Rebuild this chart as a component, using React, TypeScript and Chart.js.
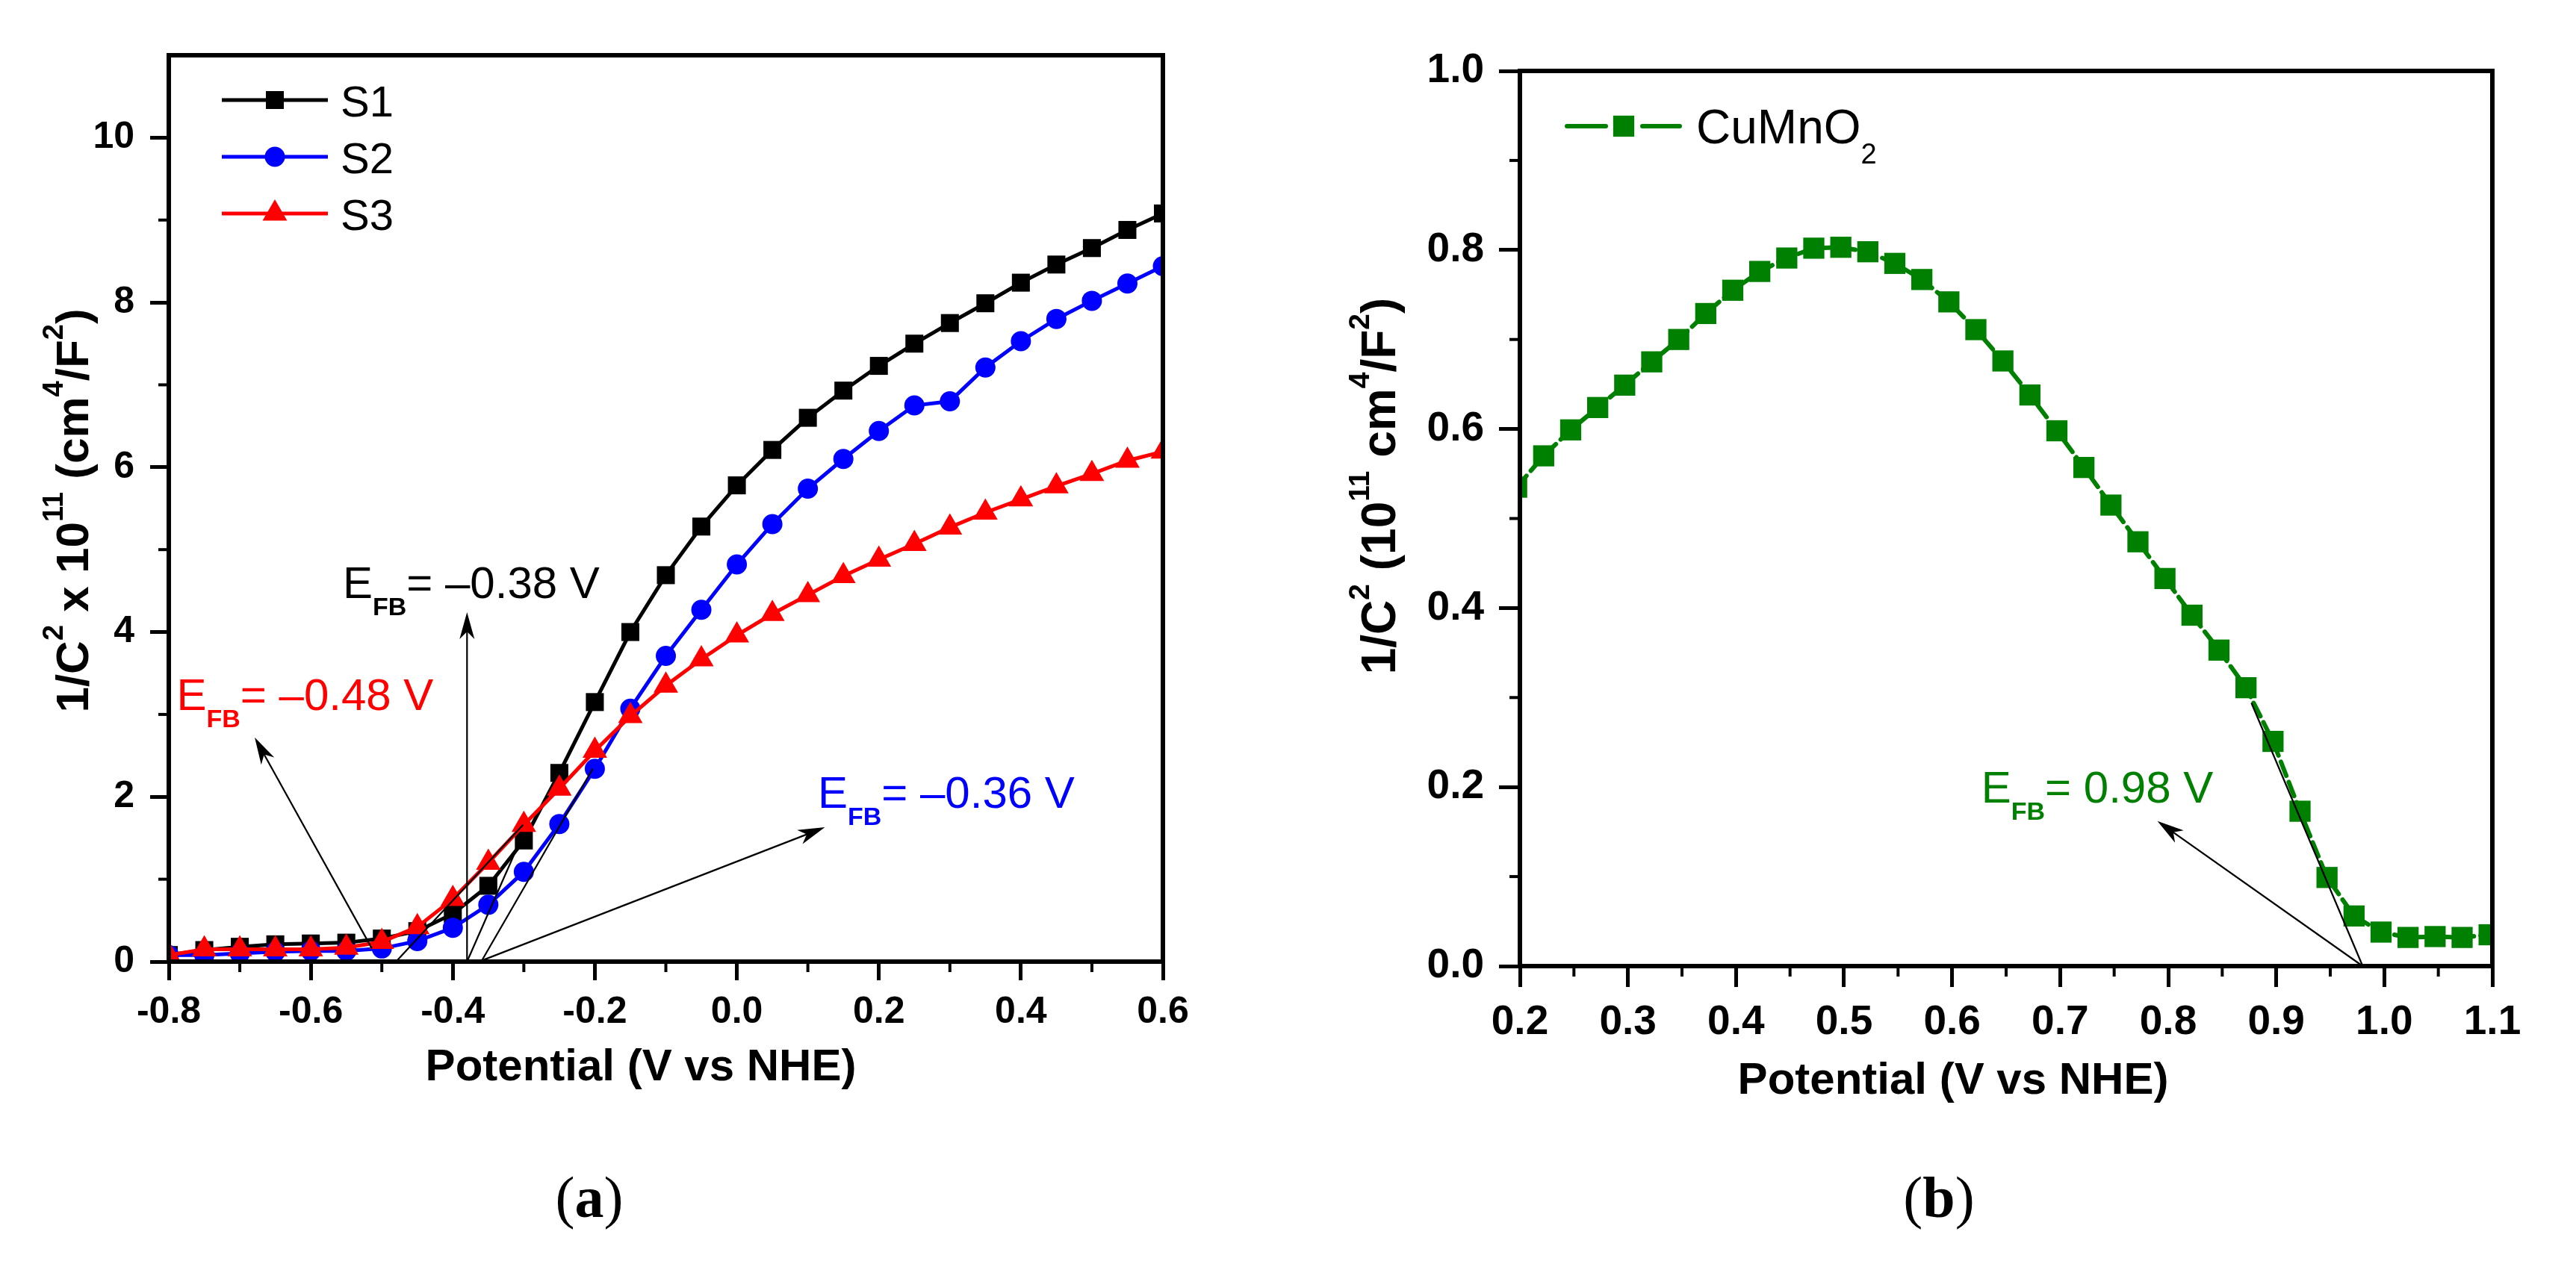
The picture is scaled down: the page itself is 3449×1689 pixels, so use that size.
import React, { useEffect, useRef } from 'react';
import { Chart, registerables } from 'chart.js';

Chart.register(...registerables);

const SANS = '"Liberation Sans", Arial, Helvetica, sans-serif';
const SERIF = '"Liberation Serif", "Times New Roman", serif';

// ---- Panel (a): Mott–Schottky plots of S1, S2, S3 ----
const POTENTIAL_A = [
  -0.8, -0.75, -0.7, -0.65, -0.6, -0.55, -0.5, -0.45, -0.4, -0.35, -0.3, -0.25, -0.2, -0.15, -0.1,
  -0.05, 0.0, 0.05, 0.1, 0.15, 0.2, 0.25, 0.3, 0.35, 0.4, 0.45, 0.5, 0.55, 0.6,
];
const S1 = [
  0.08, 0.14, 0.18, 0.21, 0.22, 0.23, 0.28, 0.37, 0.58, 0.92, 1.47, 2.29, 3.15, 4.0, 4.69,
  5.28, 5.78, 6.21, 6.6, 6.93, 7.23, 7.5, 7.75, 7.99, 8.24, 8.46, 8.66, 8.88, 9.08,
];
const S2 = [
  0.08, 0.08, 0.1, 0.12, 0.13, 0.13, 0.16, 0.25, 0.41, 0.69, 1.09, 1.67, 2.34, 3.07, 3.71,
  4.27, 4.82, 5.31, 5.74, 6.1, 6.44, 6.75, 6.8, 7.21, 7.53, 7.8, 8.02, 8.23, 8.44,
];
const S3 = [
  0.08, 0.15, 0.15, 0.15, 0.15, 0.17, 0.24, 0.42, 0.76, 1.2, 1.66, 2.1, 2.56, 2.98, 3.35,
  3.67, 3.96, 4.22, 4.45, 4.68, 4.88, 5.07, 5.27, 5.45, 5.61, 5.77, 5.92, 6.08, 6.19,
];
const SERIES_A = ['S1', 'S2', 'S3'];
const X_MINOR_A = [-0.7, -0.5, -0.3, -0.1, 0.1, 0.3, 0.5];
const Y_MINOR_A = [1, 3, 5, 7, 9];

// Flat-band potentials (x-intercepts of the linear fits) for S1, S2, S3
const EFB_A = [-0.38, -0.36, -0.48];
// Upper end of each linear fit [potential, 1/C^2]
const FIT_END_A = [
  [-0.306, 1.45],
  [-0.203, 2.34],
  [-0.301, 1.66],
];
// Arrow heads pointing at the E_FB labels, and the label anchors
const ARROW_TAIL_A = [
  [-0.38, 0],
  [-0.36, 0.01],
  [-0.514, 0.16],
];
const ARROW_HEAD_A = [
  [-0.38, 4.24],
  [0.124, 1.63],
  [-0.679, 2.72],
];
const LABEL_AT_A = [
  [-0.555, 4.41],
  [0.114, 1.87],
  [-0.789, 3.05],
];

// ---- Panel (b): CuMnO2 ----
const POTENTIAL_B = [
  0.197, 0.222, 0.247, 0.272, 0.297, 0.322, 0.347, 0.372, 0.397, 0.422, 0.447, 0.472, 0.497,
  0.522, 0.547, 0.572, 0.597, 0.622, 0.647, 0.672, 0.697, 0.722, 0.747, 0.772, 0.797, 0.822,
  0.847, 0.872, 0.897, 0.922, 0.947, 0.972, 0.997, 1.022, 1.047, 1.072, 1.097,
];
const CUMNO2 = [
  0.535, 0.57, 0.599, 0.624, 0.649, 0.675, 0.7, 0.729, 0.755, 0.776, 0.791, 0.802, 0.803,
  0.798, 0.785, 0.767, 0.742, 0.711, 0.676, 0.638, 0.598, 0.557, 0.515, 0.474, 0.433, 0.392,
  0.353, 0.311, 0.251, 0.173, 0.099, 0.056, 0.038, 0.032, 0.033, 0.032, 0.035,
];
const X_MINOR_B = [0.25, 0.35, 0.45, 0.55, 0.65, 0.75, 0.85, 0.95, 1.05];
const Y_MINOR_B = [0.1, 0.3, 0.5, 0.7, 0.9];
const EFB_B = 0.98;
const FIT_END_B = [0.877, 0.294];
const ARROW_HEAD_B = [0.79, 0.162];
const LABEL_AT_B = [0.627, 0.183];

const COLORS_A = ['#000000', '#0000ff', '#ff0000'];
const STYLES_A = ['rect', 'circle', 'triangle'];
const RADII_A = [17, 13.5, 19];
const GREEN = '#008000';

type Part = { text: string; size: number; bold?: boolean; dy?: number; family?: string };

const fontOf = (p: Part) => `${p.bold ? 'bold ' : ''}${p.size}px ${p.family || SANS}`;

function drawRich(
  ctx: CanvasRenderingContext2D,
  parts: Part[],
  x: number,
  y: number,
  color: string,
  align: 'left' | 'center' = 'left',
  rotation = 0,
) {
  ctx.save();
  ctx.translate(x, y);
  if (rotation) ctx.rotate(rotation);
  ctx.fillStyle = color;
  ctx.textAlign = 'left';
  ctx.textBaseline = 'alphabetic';
  const widths = parts.map((p) => {
    ctx.font = fontOf(p);
    return ctx.measureText(p.text).width;
  });
  const total = widths.reduce((s, w) => s + w, 0);
  let cx = align === 'center' ? -total / 2 : 0;
  parts.forEach((p, i) => {
    ctx.font = fontOf(p);
    ctx.fillText(p.text, cx, p.dy || 0);
    cx += widths[i];
  });
  ctx.restore();
}

function drawArrow(ctx: CanvasRenderingContext2D, x1: number, y1: number, x2: number, y2: number) {
  const ang = Math.atan2(y2 - y1, x2 - x1);
  const len = 36;
  const half = 10;
  const bx = x2 - len * Math.cos(ang);
  const by = y2 - len * Math.sin(ang);
  ctx.beginPath();
  ctx.moveTo(x1, y1);
  ctx.lineTo(x2 - 20 * Math.cos(ang), y2 - 20 * Math.sin(ang));
  ctx.stroke();
  ctx.beginPath();
  ctx.moveTo(x2, y2);
  ctx.lineTo(bx + half * Math.sin(ang), by - half * Math.cos(ang));
  ctx.lineTo(x2 - 26 * Math.cos(ang), y2 - 26 * Math.sin(ang));
  ctx.lineTo(bx - half * Math.sin(ang), by + half * Math.cos(ang));
  ctx.closePath();
  ctx.fill();
}

function drawMarker(ctx: CanvasRenderingContext2D, style: string, x: number, y: number, r: number, color: string) {
  ctx.save();
  ctx.fillStyle = color;
  ctx.beginPath();
  if (style === 'rect') {
    const s = r * Math.SQRT1_2;
    ctx.rect(x - s, y - s, 2 * s, 2 * s);
  } else if (style === 'circle') {
    ctx.arc(x, y, r, 0, Math.PI * 2);
  } else {
    ctx.moveTo(x, y - r);
    ctx.lineTo(x + r * 0.866, y + r * 0.5);
    ctx.lineTo(x - r * 0.866, y + r * 0.5);
    ctx.closePath();
  }
  ctx.fill();
  ctx.restore();
}

function drawFrameAndMinor(chart: any, xMinor: number[], yMinor: number[], minorLen: number) {
  const { ctx, chartArea: ca, scales } = chart;
  ctx.save();
  ctx.strokeStyle = '#000';
  ctx.lineWidth = 4;
  xMinor.forEach((v) => {
    const px = scales.x.getPixelForValue(v);
    ctx.beginPath();
    ctx.moveTo(px, ca.bottom);
    ctx.lineTo(px, ca.bottom + minorLen);
    ctx.stroke();
  });
  yMinor.forEach((v) => {
    const py = scales.y.getPixelForValue(v);
    ctx.beginPath();
    ctx.moveTo(ca.left, py);
    ctx.lineTo(ca.left - minorLen, py);
    ctx.stroke();
  });
  ctx.lineWidth = 6;
  ctx.lineJoin = 'miter';
  ctx.strokeRect(ca.left, ca.top, ca.right - ca.left, ca.bottom - ca.top);
  ctx.restore();
}

const efbText = (v: number) => (v < 0 ? `= \u2013${Math.abs(v).toFixed(2)} V` : `= ${v.toFixed(2)} V`);

const efbParts = (v: number): Part[] => [
  { text: 'E', size: 60 },
  { text: 'FB', size: 34, bold: true, dy: 23 },
  { text: efbText(v), size: 60 },
];

const captionParts = (letter: string): Part[] => [
  { text: '(', size: 78, family: SERIF },
  { text: letter, size: 78, bold: true, family: SERIF },
  { text: ')', size: 78, family: SERIF },
];

const decorA = {
  id: 'decorA',
  afterDatasetsDraw(chart: any) {
    const { ctx, scales } = chart;
    const X = (v: number) => scales.x.getPixelForValue(v);
    const Y = (v: number) => scales.y.getPixelForValue(v);
    ctx.save();
    ctx.strokeStyle = '#000';
    ctx.fillStyle = '#000';
    ctx.lineWidth = 2.2;
    // linear fits down to the potential axis
    EFB_A.forEach((e, i) => {
      ctx.beginPath();
      ctx.moveTo(X(e), Y(0));
      ctx.lineTo(X(FIT_END_A[i][0]), Y(FIT_END_A[i][1]));
      ctx.stroke();
    });
    ARROW_TAIL_A.forEach((t, i) => {
      drawArrow(ctx, X(t[0]), Y(t[1]), X(ARROW_HEAD_A[i][0]), Y(ARROW_HEAD_A[i][1]));
    });
    ctx.restore();

    drawFrameAndMinor(chart, X_MINOR_A, Y_MINOR_A, 14);

    EFB_A.forEach((e, i) => {
      drawRich(ctx, efbParts(e), X(LABEL_AT_A[i][0]), Y(LABEL_AT_A[i][1]), COLORS_A[i]);
    });

    // legend
    const rows = [134, 210, 286];
    SERIES_A.forEach((name, i) => {
      ctx.save();
      ctx.strokeStyle = COLORS_A[i];
      ctx.lineWidth = 5;
      ctx.beginPath();
      ctx.moveTo(297, rows[i]);
      ctx.lineTo(439, rows[i]);
      ctx.stroke();
      ctx.restore();
      drawMarker(ctx, STYLES_A[i], 368, rows[i], RADII_A[i], COLORS_A[i]);
      drawRich(ctx, [{ text: name, size: 58 }], 456, rows[i] + 22, '#000');
    });
  },
  afterDraw(chart: any) {
    const { ctx } = chart;
    drawRich(
      ctx,
      [
        { text: '1/C', size: 62, bold: true },
        { text: '2', size: 38, bold: true, dy: -34 },
        { text: ' x 10', size: 62, bold: true },
        { text: '11', size: 38, bold: true, dy: -34 },
        { text: ' (cm', size: 62, bold: true },
        { text: '4', size: 38, bold: true, dy: -34 },
        { text: '/F', size: 62, bold: true },
        { text: '2', size: 38, bold: true, dy: -34 },
        { text: ')', size: 62, bold: true },
      ],
      118,
      684,
      '#000',
      'center',
      -Math.PI / 2,
    );
    drawRich(ctx, [{ text: 'Potential (V vs NHE)', size: 60, bold: true }], 858, 1447, '#000', 'center');
    drawRich(ctx, captionParts('a'), 789, 1630, '#000', 'center');
  },
};

const decorB = {
  id: 'decorB',
  afterDatasetsDraw(chart: any) {
    const { ctx, scales } = chart;
    const X = (v: number) => scales.x.getPixelForValue(v);
    const Y = (v: number) => scales.y.getPixelForValue(v);
    ctx.save();
    ctx.strokeStyle = '#000';
    ctx.fillStyle = '#000';
    ctx.lineWidth = 2.2;
    ctx.beginPath();
    ctx.moveTo(X(EFB_B), Y(0));
    ctx.lineTo(X(FIT_END_B[0]), Y(FIT_END_B[1]));
    ctx.stroke();
    drawArrow(ctx, X(EFB_B), Y(0), X(ARROW_HEAD_B[0]), Y(ARROW_HEAD_B[1]));
    ctx.restore();

    drawFrameAndMinor(chart, X_MINOR_B, Y_MINOR_B, 14);

    drawRich(ctx, efbParts(EFB_B), X(LABEL_AT_B[0]), Y(LABEL_AT_B[1]), GREEN);

    // legend
    ctx.save();
    ctx.strokeStyle = GREEN;
    ctx.lineWidth = 6;
    ctx.lineCap = 'round';
    ctx.beginPath();
    ctx.moveTo(378, 169);
    ctx.lineTo(430, 169);
    ctx.moveTo(479, 169);
    ctx.lineTo(529, 169);
    ctx.stroke();
    ctx.restore();
    drawMarker(ctx, 'rect', 454, 169, 20, GREEN);
    drawRich(
      ctx,
      [
        { text: chart.data.datasets[0].label.replace('2', ''), size: 64 },
        { text: '2', size: 38, dy: 27 },
      ],
      551,
      192,
      '#000',
    );
  },
  afterDraw(chart: any) {
    const { ctx } = chart;
    drawRich(
      ctx,
      [
        { text: '1/C', size: 64, bold: true },
        { text: '2', size: 39, bold: true, dy: -35 },
        { text: ' (10', size: 64, bold: true },
        { text: '11', size: 39, bold: true, dy: -35 },
        { text: ' cm', size: 64, bold: true },
        { text: '4', size: 39, bold: true, dy: -35 },
        { text: '/F', size: 64, bold: true },
        { text: '2', size: 39, bold: true, dy: -35 },
        { text: ')', size: 64, bold: true },
      ],
      148,
      651,
      '#000',
      'center',
      -Math.PI / 2,
    );
    drawRich(ctx, [{ text: 'Potential (V vs NHE)', size: 60, bold: true }], 895, 1465, '#000', 'center');
    drawRich(ctx, captionParts('b'), 876, 1630, '#000', 'center');
  },
};

const fmt1 = (v: any) => {
  const n = Number(v);
  return (Math.abs(n) < 1e-9 ? 0 : n).toFixed(1);
};

function axis(opts: {
  min: number;
  max: number;
  step: number;
  size: number;
  tickLen: number;
  pad: number;
  fit: (s: any) => void;
  fmt: (v: any) => string;
}) {
  return {
    type: 'linear',
    min: opts.min,
    max: opts.max,
    ticks: {
      stepSize: opts.step,
      includeBounds: false,
      autoSkip: false,
      maxRotation: 0,
      color: '#000',
      padding: opts.pad,
      font: { family: SANS, size: opts.size, weight: 'bold' },
      callback: opts.fmt,
    },
    grid: {
      display: true,
      drawOnChartArea: false,
      drawTicks: true,
      tickLength: opts.tickLen,
      tickWidth: 5,
      tickColor: '#000',
    },
    border: { display: false },
    afterFit: opts.fit,
  };
}

const W_A = 1720;
const W_B = 1729;
const H = 1689;

export default function App() {
  const refA = useRef<HTMLCanvasElement>(null);
  const refB = useRef<HTMLCanvasElement>(null);

  useEffect(() => {
    const seriesData = [S1, S2, S3];
    const chartA = new Chart(refA.current as HTMLCanvasElement, {
      type: 'line',
      data: {
        datasets: SERIES_A.map((name, i) => ({
          label: name,
          data: POTENTIAL_A.map((x, j) => ({ x, y: seriesData[i][j] })),
          borderColor: COLORS_A[i],
          backgroundColor: COLORS_A[i],
          borderWidth: 5,
          pointStyle: STYLES_A[i],
          pointRadius: RADII_A[i],
          pointBorderWidth: 0,
          pointBackgroundColor: COLORS_A[i],
          tension: 0,
          order: 3 - i,
        })),
      },
      options: {
        responsive: false,
        animation: false,
        devicePixelRatio: 1,
        events: [],
        layout: { padding: { left: 0, top: 74, right: W_A - 1557, bottom: 0 }, autoPadding: false },
        plugins: { legend: { display: false }, tooltip: { enabled: false } },
        scales: {
          x: axis({
            min: -0.8, max: 0.6, step: 0.2, size: 50, tickLen: 25, pad: 13,
            fit: (s: any) => { s.height = H - 1288; },
            fmt: fmt1,
          }),
          y: axis({
            min: 0, max: 11, step: 2, size: 50, tickLen: 25, pad: 21,
            fit: (s: any) => { s.width = 226; },
            fmt: (v: any) => String(Number(v)),
          }),
        },
      } as any,
      plugins: [decorA],
    } as any);

    const chartB = new Chart(refB.current as HTMLCanvasElement, {
      type: 'line',
      data: {
        datasets: [
          {
            label: 'CuMnO2',
            data: POTENTIAL_B.map((x, j) => ({ x, y: CUMNO2[j] })),
            borderColor: GREEN,
            backgroundColor: GREEN,
            borderWidth: 6,
            borderDash: [20, 9],
            borderCapStyle: 'round',
            pointStyle: 'rect',
            pointRadius: 20,
            pointBorderWidth: 0,
            pointBackgroundColor: GREEN,
            tension: 0,
          },
        ],
      },
      options: {
        responsive: false,
        animation: false,
        devicePixelRatio: 1,
        events: [],
        layout: { padding: { left: 0, top: 95, right: W_B - 1617, bottom: 0 }, autoPadding: false },
        plugins: { legend: { display: false }, tooltip: { enabled: false } },
        scales: {
          x: axis({
            min: 0.2, max: 1.1, step: 0.1, size: 55, tickLen: 28, pad: 15,
            fit: (s: any) => { s.height = H - 1294; },
            fmt: fmt1,
          }),
          y: axis({
            min: 0, max: 1.0, step: 0.2, size: 55, tickLen: 28, pad: 20,
            fit: (s: any) => { s.width = 315; },
            fmt: fmt1,
          }),
        },
      } as any,
      plugins: [decorB],
    } as any);

    return () => {
      chartA.destroy();
      chartB.destroy();
    };
  }, []);

  return (
    <div
      style={{
        position: 'absolute',
        left: 0,
        top: 0,
        width: 3449,
        height: H,
        background: '#ffffff',
        overflow: 'hidden',
      }}
    >
      <canvas
        ref={refA}
        width={W_A}
        height={H}
        style={{ position: 'absolute', left: 0, top: 0, width: W_A, height: H, display: 'block' }}
      />
      <canvas
        ref={refB}
        width={W_B}
        height={H}
        style={{ position: 'absolute', left: W_A, top: 0, width: W_B, height: H, display: 'block' }}
      />
    </div>
  );
}
